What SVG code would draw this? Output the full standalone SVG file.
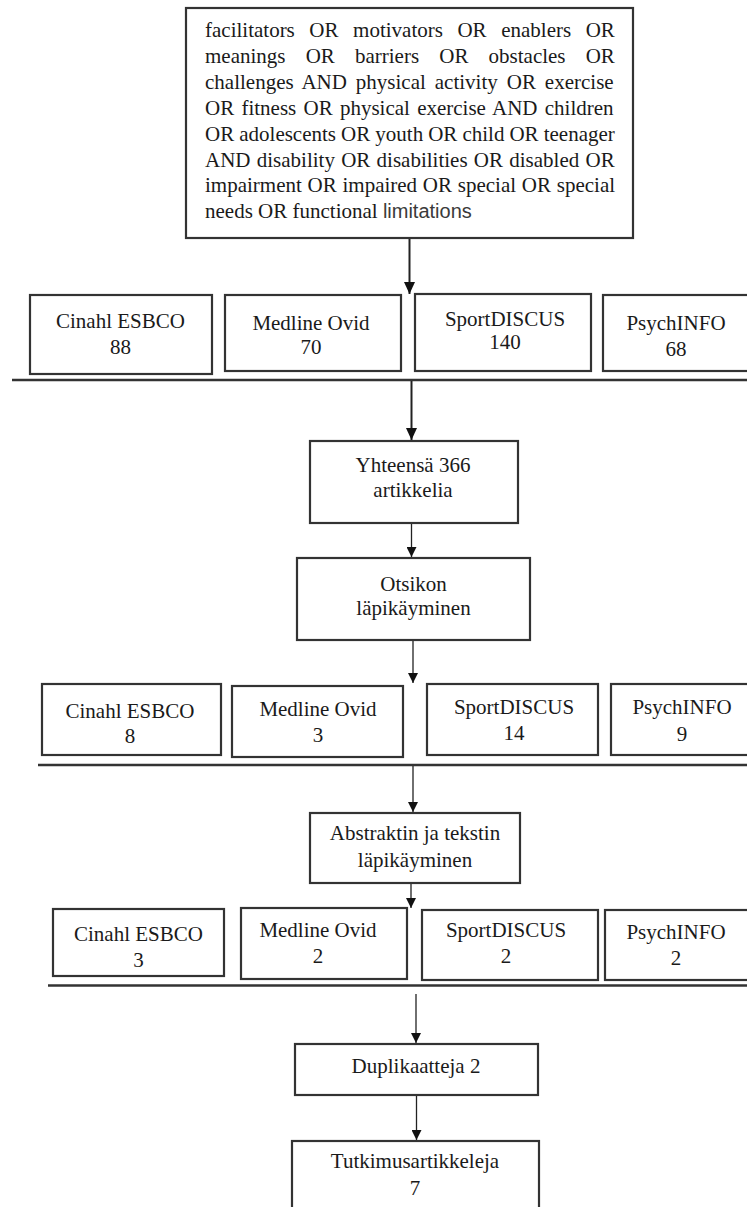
<svg xmlns="http://www.w3.org/2000/svg" width="747" height="1207" viewBox="0 0 747 1207">
<style>
  .box { fill: #ffffff; stroke: #333333; stroke-width: 2.2; }
  .t { font-family: "Liberation Serif", "Times New Roman", serif; font-size: 21px; fill: #1a1a1a; }
  .c { text-anchor: middle; }
  .sans { font-family: "Liberation Sans", Arial, sans-serif; font-size: 20px; fill: #3a3a3a; }
  .hl { stroke: #333333; stroke-width: 2.5; fill: none; }
  .ar { stroke: #222222; fill: none; }
</style>
<defs>
  <marker id="ahb" markerUnits="userSpaceOnUse" markerWidth="12" markerHeight="11" refX="12" refY="5.5" orient="auto" viewBox="0 0 12 11">
    <path d="M0,0 L12,5.5 L0,11 z" fill="#111111"/>
  </marker>
  <marker id="ah" markerUnits="userSpaceOnUse" markerWidth="10" markerHeight="10" refX="10" refY="5" orient="auto" viewBox="0 0 10 10">
    <path d="M0,0 L10,5 L0,10 z" fill="#111111"/>
  </marker>
</defs>

<g id="search-terms">
  <rect class="box" x="186" y="8" width="447" height="230"/>
  <text class="t" x="205" y="37" word-spacing="9.3">facilitators OR motivators OR enablers OR</text>
  <text class="t" x="205" y="63" word-spacing="14.9">meanings OR barriers OR obstacles OR</text>
  <text class="t" x="205" y="89" word-spacing="3.7">challenges AND physical activity OR exercise</text>
  <text class="t" x="205" y="115" word-spacing="2">OR fitness OR physical exercise AND children</text>
  <text class="t" x="205" y="141" word-spacing="-0.2">OR adolescents OR youth OR child OR teenager</text>
  <text class="t" x="205" y="167" word-spacing="1">AND disability OR disabilities OR disabled OR</text>
  <text class="t" x="205" y="192" word-spacing="0.5">impairment OR impaired OR special OR special</text>
  <text class="t" x="205" y="218">needs OR functional <tspan class="sans">limitations</tspan></text>
</g>

<g id="r1-cinahl">
  <rect class="box" x="30" y="295" width="182" height="79"/>
  <text class="t c" x="120.5" y="328">Cinahl ESBCO</text>
  <text class="t c" x="120.5" y="354">88</text>
</g>
<g id="r1-medline">
  <rect class="box" x="225" y="295" width="176" height="76"/>
  <text class="t c" x="311" y="330">Medline Ovid</text>
  <text class="t c" x="311" y="354">70</text>
</g>
<g id="r1-sportdiscus">
  <rect class="box" x="415" y="294" width="176" height="77"/>
  <text class="t c" x="505" y="325.5" font-size="19">SportDISCUS</text>
  <text class="t c" x="505" y="349">140</text>
</g>
<g id="r1-psychinfo">
  <rect class="box" x="603" y="295" width="150" height="76"/>
  <text class="t c" x="676" y="330">PsychINFO</text>
  <text class="t c" x="676" y="356">68</text>
</g>

<g id="total">
  <rect class="box" x="310" y="441" width="208" height="82"/>
  <text class="t c" x="413" y="472">Yhteensä 366</text>
  <text class="t c" x="413" y="497">artikkelia</text>
</g>
<g id="title-screen">
  <rect class="box" x="297" y="558" width="233" height="82"/>
  <text class="t c" x="413.5" y="591">Otsikon</text>
  <text class="t c" x="413.5" y="615">läpikäyminen</text>
</g>

<g id="r2-cinahl">
  <rect class="box" x="42" y="684" width="179" height="71"/>
  <text class="t c" x="130" y="718">Cinahl ESBCO</text>
  <text class="t c" x="130" y="743">8</text>
</g>
<g id="r2-medline">
  <rect class="box" x="232" y="686" width="171" height="71"/>
  <text class="t c" x="318" y="716">Medline Ovid</text>
  <text class="t c" x="318" y="742">3</text>
</g>
<g id="r2-sportdiscus">
  <rect class="box" x="427" y="684" width="171" height="71"/>
  <text class="t c" x="514" y="714">SportDISCUS</text>
  <text class="t c" x="514" y="740">14</text>
</g>
<g id="r2-psychinfo">
  <rect class="box" x="611" y="684" width="140" height="71"/>
  <text class="t c" x="682" y="714">PsychINFO</text>
  <text class="t c" x="682" y="741">9</text>
</g>

<g id="abstract-screen">
  <rect class="box" x="310" y="813" width="210" height="70"/>
  <text class="t c" x="415" y="840">Abstraktin ja tekstin</text>
  <text class="t c" x="415" y="867">läpikäyminen</text>
</g>

<g id="r3-cinahl">
  <rect class="box" x="53" y="909" width="171" height="67"/>
  <text class="t c" x="138.5" y="941">Cinahl ESBCO</text>
  <text class="t c" x="138.5" y="967">3</text>
</g>
<g id="r3-medline">
  <rect class="box" x="241" y="908" width="166" height="71"/>
  <text class="t c" x="318" y="937">Medline Ovid</text>
  <text class="t c" x="318" y="963">2</text>
</g>
<g id="r3-sportdiscus">
  <rect class="box" x="422" y="910" width="176" height="70"/>
  <text class="t c" x="506" y="937">SportDISCUS</text>
  <text class="t c" x="506" y="963">2</text>
</g>
<g id="r3-psychinfo">
  <rect class="box" x="605" y="910" width="146" height="70"/>
  <text class="t c" x="676" y="939">PsychINFO</text>
  <text class="t c" x="676" y="965">2</text>
</g>

<g id="duplicates">
  <rect class="box" x="295" y="1044" width="243" height="51"/>
  <text class="t c" x="416" y="1073">Duplikaatteja 2</text>
</g>
<g id="final">
  <rect class="box" x="292" y="1141" width="247" height="72"/>
  <text class="t c" x="415" y="1168">Tutkimusartikkeleja</text>
  <text class="t c" x="415" y="1195">7</text>
</g>

<g id="connectors">
  <line class="hl" x1="12" y1="380" x2="747" y2="380"/>
  <line class="hl" x1="38" y1="765" x2="747" y2="765"/>
  <line class="hl" x1="48" y1="985.5" x2="747" y2="985.5"/>
  <line class="ar" stroke-width="2" x1="409.5" y1="239" x2="409.5" y2="294" marker-end="url(#ahb)"/>
  <line class="ar" stroke-width="2" x1="411.5" y1="381" x2="411.5" y2="440" marker-end="url(#ahb)"/>
  <line class="ar" stroke-width="1.3" x1="411.5" y1="524" x2="411.5" y2="557" marker-end="url(#ah)"/>
  <line class="ar" stroke-width="1.3" x1="413" y1="641" x2="413" y2="683" marker-end="url(#ah)"/>
  <line class="ar" stroke-width="1.3" x1="413" y1="766" x2="413" y2="812" marker-end="url(#ah)"/>
  <line class="ar" stroke-width="1.3" x1="411" y1="884" x2="411" y2="908" marker-end="url(#ah)"/>
  <line class="ar" stroke-width="1.3" x1="416" y1="994" x2="416" y2="1043" marker-end="url(#ah)"/>
  <line class="ar" stroke-width="1.3" x1="416.5" y1="1096" x2="416.5" y2="1140" marker-end="url(#ah)"/>
</g>
</svg>
